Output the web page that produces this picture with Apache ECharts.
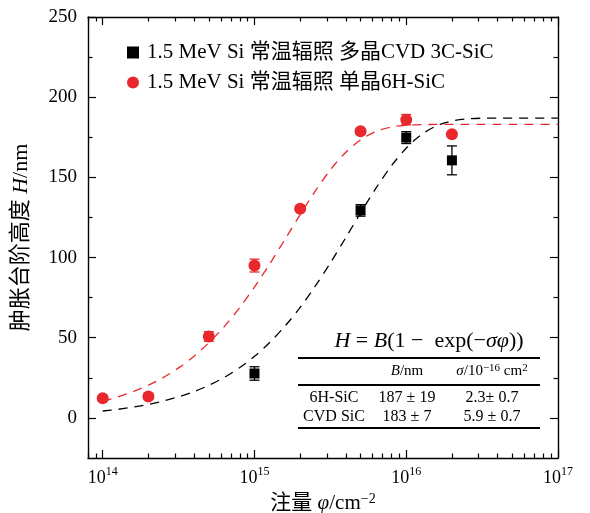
<!DOCTYPE html>
<html>
<head>
<meta charset="utf-8">
<script src="https://cdn.jsdelivr.net/npm/echarts@6/dist/echarts.min.js"></script>
<style>
html, body { margin: 0; padding: 0; background: #fff; }
#main { width: 590px; height: 513px; }
</style>
</head>
<body>
<div id="main"></div>
<script>
// 数据
var phiCVD = [1e15, 5e15, 1e16, 2e16];
var hCVD = [27.7, 129.4, 174.8, 160.6];
var errCVD = [4.2, 3.6, 3.7, 9];

var phi6H = [1e14, 2e14, 5e14, 1e15, 2e15, 5e15, 1e16, 2e16];
var h6H = [12.3, 13.3, 50.8, 95, 130.4, 178.7, 186, 176.9];
var err6H = [1.5, 1.5, 3, 4, 1.5, 1.5, 3.2, 1.5];

// 拟合虚线
var fitPhi = [1e14, 1.25e14, 1.6e14, 2e14, 2.5e14, 3.2e14, 4e14, 5e14, 6.3e14, 8e14,
              1e15, 1.25e15, 1.6e15, 2e15, 2.5e15, 3.2e15, 4e15, 5e15, 6.3e15, 8e15,
              1e16, 1.25e16, 1.6e16, 2e16, 2.5e16, 3.2e16, 4e16, 5e16, 1e17];
var fitBlack = [4.3, 5.3, 6.8, 8.4, 10.5, 13.3, 16.4, 20.3, 25.2, 31.4,
                38.4, 46.7, 57.6, 68.9, 81.8, 97.4, 112.5, 127.8, 143.1, 157.3,
                168.2, 176.5, 182.3, 185.1, 186.4, 186.9, 187, 187, 187];
var fitRed = [10.5, 13.0, 16.5, 20.4, 25.1, 31.5, 38.5, 46.8, 56.8, 68.8,
              81.6, 95.5, 111.8, 126.8, 141.1, 155.3, 165.7, 173.4, 178.6, 181.4,
              182.5, 182.9, 183, 183, 183, 183, 183, 183, 183];

// 刻度
var xMajor = [1e14, 1e15, 1e16, 1e17];
var xMinor = [8e13, 9e13];
[14, 15, 16].forEach(function (e) {
    for (var k = 2; k <= 9; k++) xMinor.push(k * Math.pow(10, e));
});
var yMajor = [0, 50, 100, 150, 200, 250];
var yMinor = [25, 75, 125, 175, 225];

// 表格
var tableHead = ['', '{i|B}{r|/nm}', '{i|σ}{r|/10}{s|−16}{r| cm}{s|2}'];
var tableRows = [
    ['6H-SiC', '187 ± 19', '2.3± 0.7'],
    ['CVD SiC', '183 ± 7', '5.9 ± 0.7']
];

var nameCVD = '1.5 MeV Si 常温辐照 多晶CVD 3C-SiC';
var name6H = '1.5 MeV Si 常温辐照 单晶6H-SiC';

var FONT = "'Liberation Serif', 'Noto Sans CJK SC', serif";
var RED = '#e8282c';

function zip(xs, ys, es) {
    return xs.map(function (x, i) { return es ? [x, ys[i], es[i]] : [x, ys[i]]; });
}

function xAxisOf(pos, ticks, len, showLine, showLabel) {
    return {
        type: 'log', logBase: 10, position: pos, min: 8e13, max: 1e17,
        axisLine: { show: showLine, onZero: false, lineStyle: { color: '#000', width: 1.4 } },
        axisTick: { show: true, inside: true, length: len, customValues: ticks, lineStyle: { color: '#000', width: 1.2 } },
        axisLabel: {
            show: showLabel, customValues: ticks, margin: 8, color: '#000',
            formatter: function (v) { return '{b|10}{s|' + Math.round(Math.log10(v)) + '}'; },
            rich: {
                b: { fontFamily: FONT, fontSize: 18, lineHeight: 24, color: '#000' },
                s: { fontFamily: FONT, fontSize: 12, lineHeight: 12, verticalAlign: 'top', color: '#000' }
            }
        },
        splitLine: { show: false }, minorTick: { show: false }
    };
}

function yAxisOf(pos, ticks, len, showLine, showLabel) {
    return {
        type: 'value', position: pos, min: -25, max: 250,
        axisLine: { show: showLine, onZero: false, lineStyle: { color: '#000', width: 1.4 } },
        axisTick: { show: true, inside: true, length: len, customValues: ticks, lineStyle: { color: '#000', width: 1.2 } },
        axisLabel: { show: showLabel, customValues: ticks, margin: 11, color: '#000', fontFamily: FONT, fontSize: 19 },
        splitLine: { show: false }
    };
}

function errorBars(color) {
    return function (params, api) {
        var x = api.value(0), y = api.value(1), e = api.value(2);
        var hi = api.coord([x, y + e]);
        var lo = api.coord([x, y - e]);
        var w = 5;
        var st = { stroke: color, lineWidth: 1.3 };
        return {
            type: 'group',
            children: [
                { type: 'line', shape: { x1: hi[0], y1: hi[1], x2: lo[0], y2: lo[1] }, style: st },
                { type: 'line', shape: { x1: hi[0] - w, y1: hi[1], x2: hi[0] + w, y2: hi[1] }, style: st },
                { type: 'line', shape: { x1: lo[0] - w, y1: lo[1], x2: lo[0] + w, y2: lo[1] }, style: st }
            ]
        };
    };
}

var myChart = echarts.init(document.getElementById('main'), null, { renderer: 'canvas' });

var x0 = xAxisOf('bottom', xMajor, 8, true, true);
x0.name = '{c|注量 }{i|φ}{c|/cm}{s|−2}';
x0.nameLocation = 'middle';
x0.nameGap = 33;
x0.nameTextStyle = {
    rich: {
        c: { fontFamily: FONT, fontSize: 21, lineHeight: 24, color: '#000' },
        i: { fontFamily: FONT, fontStyle: 'italic', fontSize: 21, lineHeight: 24, color: '#000' },
        s: { fontFamily: FONT, fontSize: 14, lineHeight: 13, verticalAlign: 'top', color: '#000' }
    }
};

var y0 = yAxisOf('left', yMajor, 8, true, true);
y0.name = '{c|肿胀台阶高度 }{i|H}{c|/nm}';
y0.nameLocation = 'middle';
y0.nameGap = 56;
y0.nameTextStyle = {
    rich: {
        c: { fontFamily: FONT, fontSize: 22, color: '#000' },
        i: { fontFamily: FONT, fontStyle: 'italic', fontSize: 22, color: '#000' }
    }
};

// 右下角公式与表格
var tx = [334, 407, 492];
var headY = 371.5;
var rowY = [398, 417];
var graphics = [
    {
        type: 'text', x: 429, y: 341,
        style: {
            text: '{i|H}{r| = }{i|B}{r|(1 −  exp(−}{i|σφ}{r|))}',
            align: 'center', verticalAlign: 'middle',
            rich: {
                i: { fontFamily: FONT, fontStyle: 'italic', fontSize: 22, fill: '#000' },
                r: { fontFamily: FONT, fontSize: 22, fill: '#000' }
            }
        }
    },
    { type: 'line', shape: { x1: 298, y1: 358, x2: 540, y2: 358 }, style: { stroke: '#000', lineWidth: 2 } },
    { type: 'line', shape: { x1: 298, y1: 385, x2: 540, y2: 385 }, style: { stroke: '#000', lineWidth: 2 } },
    { type: 'line', shape: { x1: 298, y1: 428, x2: 540, y2: 428 }, style: { stroke: '#000', lineWidth: 2 } }
];
tableHead.forEach(function (t, j) {
    if (!t) return;
    graphics.push({
        type: 'text', x: tx[j], y: headY,
        style: {
            text: t, align: 'center', verticalAlign: 'middle',
            rich: {
                i: { fontFamily: FONT, fontStyle: 'italic', fontSize: 15, lineHeight: 17, fill: '#000' },
                r: { fontFamily: FONT, fontSize: 15, lineHeight: 17, fill: '#000' },
                s: { fontFamily: FONT, fontSize: 11, lineHeight: 11, verticalAlign: 'top', fill: '#000' }
            }
        }
    });
});
tableRows.forEach(function (row, i) {
    row.forEach(function (t, j) {
        graphics.push({
            type: 'text', x: tx[j], y: rowY[i],
            style: { text: t, align: 'center', verticalAlign: 'middle', fontFamily: FONT, fontSize: 16, fill: '#000' }
        });
    });
});

var option = {
    backgroundColor: '#fff',
    animation: false,
    grid: { left: 88, right: 32, top: 17, bottom: 55, containLabel: false, outerBoundsMode: 'none' },
    legend: {
        left: 122, top: 37, orient: 'vertical', itemGap: 9,
        itemWidth: 12, itemHeight: 12,
        textStyle: { fontFamily: FONT, fontSize: 21, lineHeight: 18, color: '#000', padding: [0, 0, 0, 3] },
        data: [
            { name: nameCVD, icon: 'rect' },
            { name: name6H, icon: 'circle' }
        ]
    },
    xAxis: [
        x0,
        xAxisOf('bottom', xMinor, 4.5, false, false),
        xAxisOf('top', xMajor, 8, true, false),
        xAxisOf('top', xMinor, 4.5, false, false)
    ],
    yAxis: [
        y0,
        yAxisOf('left', yMinor, 4.5, false, false),
        yAxisOf('right', yMajor, 8, true, false),
        yAxisOf('right', yMinor, 4.5, false, false)
    ],
    graphic: graphics,
    series: [
        {
            name: 'fitBlack', type: 'line', data: zip(fitPhi, fitBlack),
            smooth: 0.3, showSymbol: false, silent: true,
            lineStyle: { color: '#000', width: 1.3, type: [9, 7] }, z: 1
        },
        {
            name: 'fitRed', type: 'line', data: zip(fitPhi, fitRed),
            smooth: 0.3, showSymbol: false, silent: true,
            lineStyle: { color: RED, width: 1.3, type: [9, 7] }, z: 1
        },
        {
            name: 'errCVD', type: 'custom', data: zip(phiCVD, hCVD, errCVD),
            encode: { x: 0, y: 1 }, renderItem: errorBars('#000'), z: 3
        },
        {
            name: 'err6H', type: 'custom', data: zip(phi6H, h6H, err6H),
            encode: { x: 0, y: 1 }, renderItem: errorBars(RED), z: 3
        },
        {
            name: nameCVD, type: 'scatter', data: zip(phiCVD, hCVD),
            symbol: 'rect', symbolSize: 10, itemStyle: { color: '#000', opacity: 1 }, z: 4
        },
        {
            name: name6H, type: 'scatter', data: zip(phi6H, h6H),
            symbol: 'circle', symbolSize: 12, itemStyle: { color: RED, opacity: 1 }, z: 4
        }
    ]
};

myChart.setOption(option);
window.addEventListener('resize', function () { myChart.resize(); });
</script>
</body>
</html>
